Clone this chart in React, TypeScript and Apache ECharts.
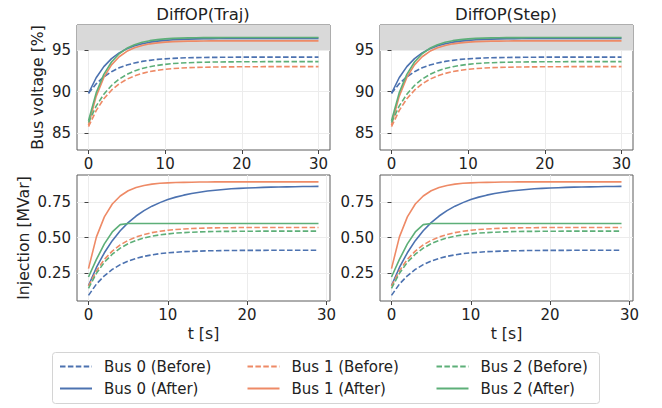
import React, { useEffect, useRef } from "react";
import * as echarts from "echarts";

// ---------- data ----------
const voltTime = [0, 1, 2, 3, 4, 5, 6, 7, 8, 9, 10, 11, 12, 13, 14, 15, 16, 17, 18, 19, 20, 21, 22, 23, 24, 25, 26, 27, 28, 29, 30];
const injTime = [0, 1, 2, 3, 4, 5, 6, 7, 8, 9, 10, 11, 12, 13, 14, 15, 16, 17, 18, 19, 20, 21, 22, 23, 24, 25, 26, 27, 28, 29];

const voltBus0Before = [89.8, 90.94, 91.78, 92.4, 92.86, 93.19, 93.44, 93.63, 93.76, 93.87, 93.94, 93.99, 94.04, 94.07, 94.09, 94.1, 94.12, 94.12, 94.13, 94.14, 94.14, 94.14, 94.14, 94.15, 94.15, 94.15, 94.15, 94.15, 94.15, 94.15, 94.15];
const voltBus1Before = [85.8, 87.73, 89.15, 90.18, 90.94, 91.49, 91.9, 92.19, 92.41, 92.57, 92.68, 92.77, 92.83, 92.88, 92.91, 92.93, 92.95, 92.96, 92.97, 92.98, 92.99, 92.99, 92.99, 93.0, 93.0, 93.0, 93.0, 93.0, 93.0, 93.0, 93.0];
const voltBus2Before = [86.3, 88.26, 89.69, 90.74, 91.51, 92.07, 92.48, 92.78, 93.0, 93.16, 93.28, 93.37, 93.43, 93.47, 93.51, 93.53, 93.55, 93.56, 93.57, 93.58, 93.59, 93.59, 93.59, 93.6, 93.6, 93.6, 93.6, 93.6, 93.6, 93.6, 93.6];
const voltBus0After = [89.8, 91.67, 93.01, 93.97, 94.66, 95.15, 95.51, 95.76, 95.94, 96.07, 96.16, 96.23, 96.28, 96.31, 96.34, 96.36, 96.37, 96.38, 96.38, 96.39, 96.39, 96.4, 96.4, 96.4, 96.4, 96.4, 96.4, 96.4, 96.4, 96.4, 96.4];
const voltBus1After = [86.0, 89.44, 91.71, 93.21, 94.19, 94.84, 95.27, 95.55, 95.74, 95.86, 95.94, 96.0, 96.03, 96.06, 96.07, 96.08, 96.09, 96.09, 96.1, 96.1, 96.1, 96.1, 96.1, 96.1, 96.1, 96.1, 96.1, 96.1, 96.1, 96.1, 96.1];
const voltBus2After = [86.5, 89.85, 92.08, 93.56, 94.55, 95.2, 95.64, 95.93, 96.12, 96.25, 96.33, 96.39, 96.43, 96.45, 96.47, 96.48, 96.49, 96.49, 96.5, 96.5, 96.5, 96.5, 96.5, 96.5, 96.5, 96.5, 96.5, 96.5, 96.5, 96.5, 96.5];

const injBus0Before = [0.09, 0.17, 0.229, 0.274, 0.308, 0.333, 0.352, 0.367, 0.377, 0.386, 0.392, 0.396, 0.4, 0.402, 0.404, 0.406, 0.407, 0.408, 0.408, 0.409, 0.409, 0.409, 0.409, 0.41, 0.41, 0.41, 0.41, 0.41, 0.41, 0.41];
const injBus1Before = [0.155, 0.264, 0.345, 0.404, 0.448, 0.48, 0.504, 0.522, 0.535, 0.545, 0.552, 0.557, 0.561, 0.564, 0.566, 0.568, 0.569, 0.57, 0.57, 0.571, 0.571, 0.571, 0.572, 0.572, 0.572, 0.572, 0.572, 0.572, 0.572, 0.572];
const injBus2Before = [0.14, 0.246, 0.325, 0.382, 0.425, 0.457, 0.48, 0.497, 0.51, 0.519, 0.526, 0.532, 0.535, 0.538, 0.54, 0.542, 0.543, 0.544, 0.544, 0.545, 0.545, 0.545, 0.546, 0.546, 0.546, 0.546, 0.546, 0.546, 0.546, 0.546];
const injBus0After = [0.16, 0.288, 0.392, 0.478, 0.548, 0.606, 0.653, 0.691, 0.723, 0.748, 0.77, 0.787, 0.801, 0.813, 0.822, 0.83, 0.836, 0.841, 0.846, 0.849, 0.852, 0.854, 0.856, 0.858, 0.859, 0.86, 0.861, 0.862, 0.862, 0.863];
const injBus1After = [0.28, 0.505, 0.647, 0.738, 0.795, 0.832, 0.855, 0.869, 0.879, 0.885, 0.888, 0.891, 0.892, 0.893, 0.894, 0.894, 0.895, 0.895, 0.895, 0.895, 0.895, 0.895, 0.895, 0.895, 0.895, 0.895, 0.895, 0.895, 0.895, 0.895];
const injBus2After = [0.22, 0.345, 0.455, 0.54, 0.592, 0.6, 0.6, 0.6, 0.6, 0.6, 0.6, 0.6, 0.6, 0.6, 0.6, 0.6, 0.6, 0.6, 0.6, 0.6, 0.6, 0.6, 0.6, 0.6, 0.6, 0.6, 0.6, 0.6, 0.6, 0.6];

const titles = ["DiffOP(Traj)", "DiffOP(Step)"];
const xTicks = [0, 10, 20, 30];
const voltTicks = [85, 90, 95];
const injTicks = [0.25, 0.5, 0.75];
const limitBand = [95, 98];

const seriesNames = ["Bus 0 (Before)", "Bus 0 (After)", "Bus 1 (Before)", "Bus 1 (After)", "Bus 2 (Before)", "Bus 2 (After)"];

// ---------- styles ----------
const COLORS = ["#4C72B0", "#EE8A66", "#5DAF78"];
const FONT = "DejaVu Sans";
const DASH = [5.5, 2.4];
const TICK_FS = 15;
const NAME_FS = 15.7;

export default function App() {
  const ref = useRef<HTMLDivElement>(null);

  useEffect(() => {
    if (!ref.current) return;
    const chart = echarts.init(ref.current, undefined, { renderer: "svg" });

    const grids = [
      { left: 77, top: 25, width: 253, height: 125 },
      { left: 380, top: 25, width: 253, height: 125 },
      { left: 77, top: 175, width: 253, height: 126 },
      { left: 380, top: 175, width: 253, height: 126 },
    ].map((g) => ({ ...g, show: true, borderColor: "#5c5c5c", borderWidth: 1, backgroundColor: "transparent" }));

    const baseX = (idx: number, bottom: boolean) => ({
      type: "value",
      gridIndex: idx,
      min: bottom ? -1.45 : -1.5,
      max: bottom ? 30.45 : 31.5,
      name: bottom ? "t [s]" : "",
      nameLocation: "middle",
      nameGap: 24,
      nameTextStyle: { fontSize: NAME_FS, color: "#222", fontFamily: FONT },
      axisLine: { show: false },
      axisTick: { show: true, customValues: xTicks, length: 4, lineStyle: { color: "#444" } },
      axisLabel: { customValues: xTicks, fontSize: TICK_FS, color: "#222", margin: 6, fontFamily: FONT },
      splitLine: { show: true, lineStyle: { color: "#ececec", width: 1 } },
    });

    const baseY = (idx: number, bottom: boolean, left: boolean) => {
      const ticks = bottom ? injTicks : voltTicks;
      return {
        type: "value",
        gridIndex: idx,
        min: bottom ? 0.05 : 83,
        max: bottom ? 0.944 : 98,
        name: left ? (bottom ? "Injection [MVar]" : "Bus voltage [%]") : "",
        nameLocation: "middle",
        nameGap: bottom ? 46 : 32,
        nameTextStyle: { fontSize: NAME_FS, color: "#222", fontFamily: FONT },
        axisLine: { show: false },
        axisTick: { show: true, customValues: ticks, length: 4, lineStyle: { color: "#444" } },
        axisLabel: {
          customValues: ticks,
          fontSize: TICK_FS,
          color: "#222",
          margin: 6,
          fontFamily: FONT,
          formatter: (v: number) => (bottom ? v.toFixed(2) : String(v)),
        },
        splitLine: { show: true, lineStyle: { color: "#ececec", width: 1 } },
      };
    };

    const xAxis = [baseX(0, false), baseX(1, false), baseX(2, true), baseX(3, true)];
    const yAxis = [baseY(0, false, true), baseY(1, false, false), baseY(2, true, true), baseY(3, true, false)];

    const voltSets = [voltBus0Before, voltBus0After, voltBus1Before, voltBus1After, voltBus2Before, voltBus2After];
    const injSets = [injBus0Before, injBus0After, injBus1Before, injBus1After, injBus2Before, injBus2After];

    const series: any[] = [];
    for (let g = 0; g < 4; g++) {
      const bottom = g >= 2;
      const sets = bottom ? injSets : voltSets;
      const t = bottom ? injTime : voltTime;
      sets.forEach((vals, k) => {
        const color = COLORS[Math.floor(k / 2)];
        const dashed = k % 2 === 0;
        const s: any = {
          type: "line",
          name: seriesNames[k],
          xAxisIndex: g,
          yAxisIndex: g,
          data: t.map((x, i) => [x, vals[i]]),
          symbol: "none",
          showSymbol: false,
          lineStyle: { color, width: 1.6, type: dashed ? DASH : "solid" },
          itemStyle: { color },
          z: 3,
        };
        if (!bottom && k === 0) {
          s.markArea = {
            silent: true,
            itemStyle: { color: "#d9d9d9" },
            data: [[{ yAxis: limitBand[0] }, { yAxis: limitBand[1] }]],
          };
        }
        series.push(s);
      });
    }

    const legendCols = [
      [seriesNames[0], seriesNames[1]],
      [seriesNames[2], seriesNames[3]],
      [seriesNames[4], seriesNames[5]],
    ];
    const legendLefts = [59, 246.5, 435.5];
    const legend = legendCols.map((data, i) => ({
      data,
      orient: "vertical",
      left: legendLefts[i],
      top: 359,
      itemWidth: 32,
      itemHeight: 14,
      itemGap: 7,
      padding: 0,
      itemStyle: { color: "rgba(0,0,0,0)", borderWidth: 0, opacity: 0 },
      textStyle: { fontSize: 15, color: "#222", fontFamily: FONT, padding: [0, 0, 0, 7] },
      selectedMode: false,
    }));

    chart.setOption({
      animation: false,
      backgroundColor: "#ffffff",
      textStyle: { fontFamily: FONT },
      title: titles.map((text, i) => ({
        text,
        left: i === 0 ? 203 : 506,
        top: 6,
        padding: 0,
        textAlign: "center",
        textStyle: { fontSize: 16.5, fontWeight: "normal", color: "#222", fontFamily: FONT },
      })),
      grid: grids,
      xAxis,
      yAxis,
      legend,
      graphic: [
        {
          type: "rect",
          z: 0,
          shape: { x: 52.5, y: 352.5, width: 547, height: 51, r: 3 },
          style: { fill: "#ffffff", stroke: "#d4d4d4", lineWidth: 1 },
        },
      ],
      series,
    });

    return () => chart.dispose();
  }, []);

  return <div ref={ref} style={{ position: "fixed", left: 0, top: 0, width: 662, height: 408 }} />;
}
